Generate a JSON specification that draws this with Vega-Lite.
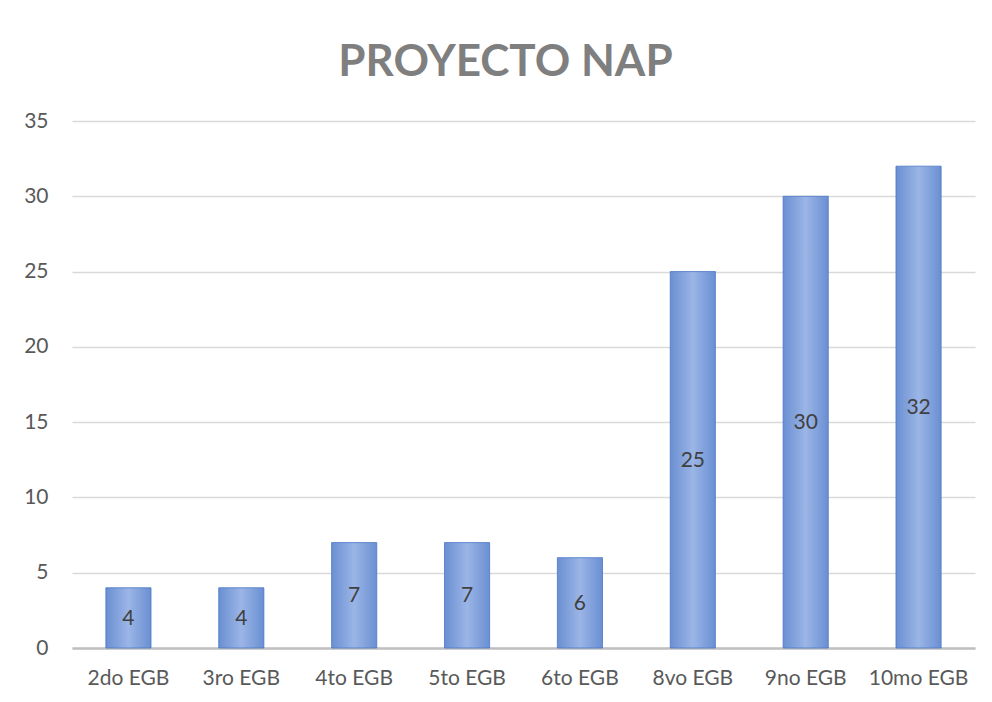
{
  "$schema": "https://vega.github.io/schema/vega-lite/v6.json",
  "autosize": "none",
  "width": 903,
  "height": 527,
  "padding": {"left": 72, "top": 121, "right": 17, "bottom": 54},
  "background": "white",
  "config": {"view": {"stroke": null}},
  "title": {
    "text": "PROYECTO NAP",
    "font": "Lato",
    "fontSize": 44,
    "fontWeight": "bold",
    "color": "#7f7f7f",
    "anchor": "middle",
    "frame": "group",
    "offset": 25,
    "dx": -18
  },
  "data": {
    "values": [
      {"curso": "2do EGB", "valor": 4},
      {"curso": "3ro EGB", "valor": 4},
      {"curso": "4to EGB", "valor": 7},
      {"curso": "5to EGB", "valor": 7},
      {"curso": "6to EGB", "valor": 6},
      {"curso": "8vo EGB", "valor": 25},
      {"curso": "9no EGB", "valor": 30},
      {"curso": "10mo EGB", "valor": 32}
    ]
  },
  "encoding": {
    "x": {
      "field": "curso",
      "type": "nominal",
      "sort": null,
      "scale": {"paddingInner": 0.6, "paddingOuter": 0.3},
      "axis": {
        "title": null,
        "labelAngle": 0,
        "labelFont": "Lato",
        "labelFontSize": 21,
        "labelColor": "#595959",
        "labelPadding": 19,
        "ticks": false,
        "domainColor": "#bfbfbf",
        "domainWidth": 2.5
      }
    }
  },
  "layer": [
    {
      "mark": {
        "type": "bar",
        "stroke": "#4a76c6",
        "strokeWidth": 0.8,
        "color": {
          "gradient": "linear",
          "x1": 0, "x2": 1, "y1": 0, "y2": 0,
          "stops": [
            {"offset": 0, "color": "#6a8fd2"},
            {"offset": 0.5, "color": "#9bb5e6"},
            {"offset": 1, "color": "#6a8fd2"}
          ]
        }
      },
      "encoding": {
        "y": {
          "field": "valor",
          "type": "quantitative",
          "scale": {"domain": [0, 35], "nice": false},
          "axis": {
            "title": null,
            "values": [0, 5, 10, 15, 20, 25, 30, 35],
            "labelFont": "Lato",
            "labelFontSize": 21,
            "labelColor": "#595959",
            "labelPadding": 24,
            "ticks": false,
            "domain": false,
            "gridColor": "#d9d9d9",
            "gridWidth": 1.5
          }
        }
      }
    },
    {
      "transform": [{"calculate": "datum.valor / 2", "as": "mitad"}],
      "mark": {
        "type": "text",
        "font": "Lato",
        "fontSize": 21,
        "color": "#404040",
        "baseline": "middle",
        "dy": 1
      },
      "encoding": {
        "y": {"field": "mitad", "type": "quantitative"},
        "text": {"field": "valor", "type": "quantitative"}
      }
    }
  ]
}
